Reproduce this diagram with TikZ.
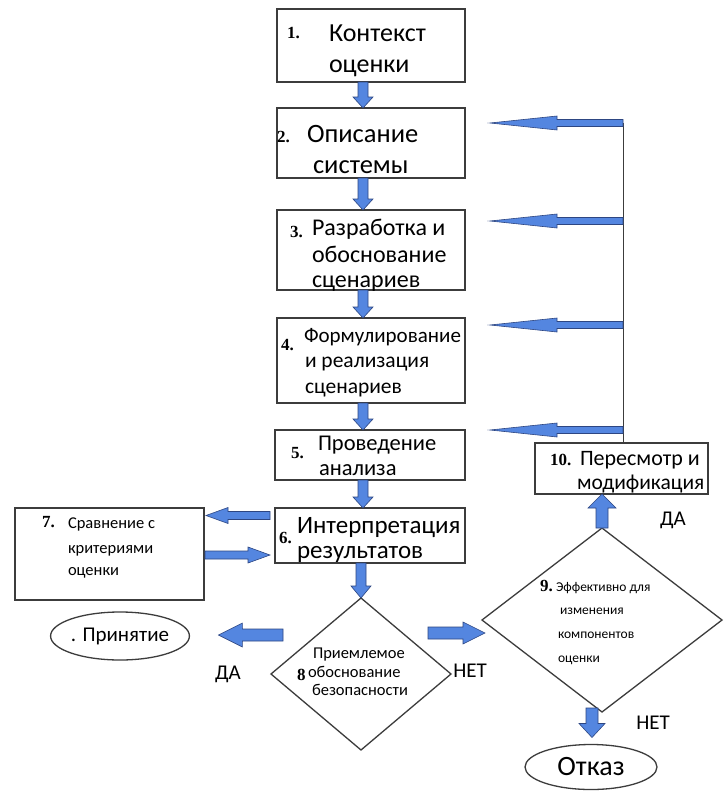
\documentclass[tikz,border=0pt]{standalone}
\usepackage{fontspec}
\setmainfont{Carlito}
\newfontfamily\numfont{Liberation Serif}
\usetikzlibrary{calc,shapes.geometric}
\definecolor{arrblue}{RGB}{84,134,224}
\definecolor{arredge}{RGB}{45,70,130}
\definecolor{boxline}{RGB}{60,60,60}
\newcommand\fatarrow[5]{%
  \coordinate (fah) at ($(#2)!#5!(#1)$);
  \filldraw[fatarr] ($(#1)!#3!90:(#2)$) -- ($(fah)!#3!90:(#2)$) -- ($(fah)!#4!90:(#2)$) -- (#2)
    -- ($(fah)!#4!-90:(#2)$) -- ($(fah)!#3!-90:(#2)$) -- ($(#1)!#3!-90:(#2)$) -- cycle;
}
\newcommand\fs[1]{\fontsize{#1}{#1}\selectfont}
\tikzset{
  box/.style={draw=boxline, line width=1.3pt, inner sep=0pt, outer sep=0pt},
  txt/.style={anchor=base west, inner sep=0pt, outer sep=0pt},
  num/.style={anchor=base west, inner sep=0pt, outer sep=0pt, font=\numfont\bfseries\fs{17}},
  fatarr/.style={fill=arrblue, draw=arredge, line width=0.6pt, line join=miter},
  lbl/.style={anchor=base, inner sep=0pt, font=\fs{21}},
}
\begin{document}
\begin{tikzpicture}[x=1pt,y=-1pt]
\useasboundingbox[fill=white] (0,0) rectangle (723,792);
% boxes
\node[box, minimum width=188pt, minimum height=73pt] (b1) at (371,45.5) {};
\node[box, minimum width=188pt, minimum height=70pt] (b2) at (371,143) {};
\node[box, minimum width=188pt, minimum height=80pt] (b3) at (371,250) {};
\node[box, minimum width=188pt, minimum height=85pt] (b4) at (371,360.5) {};
\node[box, minimum width=190pt, minimum height=50pt] (b5) at (370,455) {};
\node[box, minimum width=190pt, minimum height=55pt] (b6) at (370,535.5) {};
\node[box, minimum width=189pt, minimum height=92pt] (b7) at (109.5,554) {};
\node[box, minimum width=173pt, minimum height=51pt] (b10) at (621.5,468.5) {};
\node[box, diamond, minimum width=180pt, minimum height=152pt] (d8) at (361,674) {};
\node[box, diamond, minimum width=240pt, minimum height=184pt] (d9) at (602,620) {};
\node[box, ellipse, minimum width=136pt, minimum height=48pt, font=\fs{21}] (acc) at (120,636) {. Принятие};
\node[box, ellipse, minimum width=132pt, minimum height=45pt, font=\fs{28}] (rej) at (591,767) {Отказ};
% texts
\node[num] (n1) at (287,38) {1.};
\node[txt, font=\fs{26}] (t1a) at (329,42) {Контекст};
\node[txt, font=\fs{26}] (t1b) at (329,72) {оценки};
\node[num] (n2) at (277,142) {2.};
\node[txt, font=\fs{26.5}] (t2a) at (307,142) {Описание};
\node[txt, font=\fs{26.5}] (t2b) at (313,173) {системы};
\node[num] (n3) at (290,237) {3.};
\node[txt, font=\fs{24}] (t3a) at (312,235) {Разработка и};
\node[txt, font=\fs{24}] (t3b) at (312,262) {обоснование};
\node[txt, font=\fs{24}] (t3c) at (312,287) {сценариев};
\node[num] (n4) at (281,350) {4.};
\node[txt, font=\fs{21}] (t4a) at (304,342) {Формулирование};
\node[txt, font=\fs{21.5}] (t4b) at (305,367) {и реализация};
\node[txt, font=\fs{21.5}] (t4c) at (305,393) {сценариев};
\node[num] (n5) at (291,458) {5.};
\node[txt, font=\fs{22.5}] (t5a) at (318,450) {Проведение};
\node[txt, font=\fs{22.5}] (t5b) at (319,475) {анализа};
\node[num] (n6) at (279,543) {6.};
\node[txt, font=\fs{25}] (t6a) at (297,533) {Интерпретация};
\node[txt, font=\fs{25}] (t6b) at (297,558) {результатов};
\node[num] (n7) at (42,527) {7.};
\node[txt, font=\fs{16.5}] (t7a) at (68,528) {Сравнение с};
\node[txt, font=\fs{16.5}] (t7b) at (68,553) {критериями};
\node[txt, font=\fs{16.5}] (t7c) at (68,575) {оценки};
\node[num] (n8) at (297,680) {8};
\node[txt, font=\fs{16.5}] (t8a) at (313,658) {Приемлемое};
\node[txt, font=\fs{16.5}] (t8b) at (308,677) {обоснование};
\node[txt, font=\fs{16.5}] (t8c) at (312,695) {безопасности};
\node[num] (n9) at (540,591) {9.};
\node[txt, font=\fs{13.5}] (t9a) at (556,591) {Эффективно для};
\node[txt, font=\fs{13.5}] (t9b) at (560,614) {изменения};
\node[txt, font=\fs{13.5}] (t9c) at (558,638) {компонентов};
\node[txt, font=\fs{13.5}] (t9d) at (558,662) {оценки};
\node[num] (n10) at (550,465) {10.};
\node[txt, font=\fs{22}] (t10a) at (580,465) {Пересмотр и};
\node[txt, font=\fs{21.5}] (t10b) at (577,489) {модификация};
% labels
\node[lbl] (l1) at (228,679) {ДА};
\node[lbl] (l2) at (470,677) {НЕТ};
\node[lbl] (l3) at (673,525) {ДА};
\node[lbl] (l4) at (653,729) {НЕТ};
% main fat arrows
\coordinate (a12s) at ($(b1.south)+(-8,0)$); \coordinate (a12e) at ($(b2.north)+(-8,0)$);
\coordinate (a23s) at ($(b2.south)+(-8,0)$); \coordinate (a23e) at ($(b3.north)+(-8,0)$);
\coordinate (a34s) at ($(b3.south)+(-8,0)$); \coordinate (a34e) at ($(b4.north)+(-8,0)$);
\coordinate (a45s) at ($(b4.south)+(-8,0)$); \coordinate (a45e) at ($(b5.north)+(-7,0)$);
\coordinate (a56s) at ($(b5.south)+(-7,0)$); \coordinate (a56e) at ($(b6.north)+(-7,0)$);
\coordinate (a68s) at (b6.south -| d8.north);
\fatarrow{a12s}{a12e}{5pt}{10pt}{11pt}
\fatarrow{a23s}{a23e}{5pt}{10pt}{11pt}
\fatarrow{a34s}{a34e}{5pt}{10pt}{11pt}
\fatarrow{a45s}{a45e}{5pt}{10pt}{11pt}
\fatarrow{a56s}{a56e}{5pt}{10pt}{11pt}
\fatarrow{a68s}{d8.north}{5pt}{10pt}{12pt}
% 6 <-> 7
\coordinate (a67s) at ($(b6.west)+(-5,-20)$); \coordinate (a67e) at ($(b7.east |- a67s)+(2,0)$);
\coordinate (a76s) at ($(b7.east)+(1,1)$); \coordinate (a76e) at ($(b6.west |- a76s)+(-5,0)$);
\fatarrow{a67s}{a67e}{4pt}{8pt}{22pt}
\fatarrow{a76s}{a76e}{4pt}{8pt}{22pt}
% decisions
\coordinate (a8as) at ($(d8.west)+(12,-39)$); \coordinate (a8ae) at ($(acc.east |- a8as)+(29,0)$);
\fatarrow{a8as}{a8ae}{6pt}{12pt}{24pt}
\coordinate (a89s) at ($(d8.east)+(-23,-41)$); \coordinate (a89e) at ($(d9.west |- a89s)+(3,0)$);
\fatarrow{a89s}{a89e}{6pt}{11pt}{22pt}
\coordinate (a910e) at (b10.south -| d9.north);
\fatarrow{d9.north}{a910e}{6pt}{14pt}{14pt}
\coordinate (a9rs) at ($(d9.south)+(-10,-4)$); \coordinate (a9re) at ($(rej.north -| a9rs)+(0,-7)$);
\fatarrow{a9rs}{a9re}{6pt}{13pt}{14pt}
% feedback line and thin arrows
\coordinate (vt) at (623,123);
\coordinate (vb) at (b10.north -| vt);
\draw[boxline, line width=1pt] (vt) -- (vb);
\coordinate (r2e) at ($(b2.east |- vt)+(25,0)$);
\coordinate (r3s) at (623,221); \coordinate (r3e) at ($(b3.east |- r3s)+(25,0)$);
\coordinate (r4s) at (623,325); \coordinate (r4e) at ($(b4.east |- r4s)+(25,0)$);
\coordinate (r5s) at (623,430); \coordinate (r5e) at ($(b5.east |- r5s)+(25,0)$);
\fatarrow{vt}{r2e}{3.5pt}{7pt}{67pt}
\fatarrow{r3s}{r3e}{3.5pt}{7pt}{67pt}
\fatarrow{r4s}{r4e}{3.5pt}{7pt}{67pt}
\fatarrow{r5s}{r5e}{3.5pt}{7pt}{67pt}
\end{tikzpicture}
\end{document}
